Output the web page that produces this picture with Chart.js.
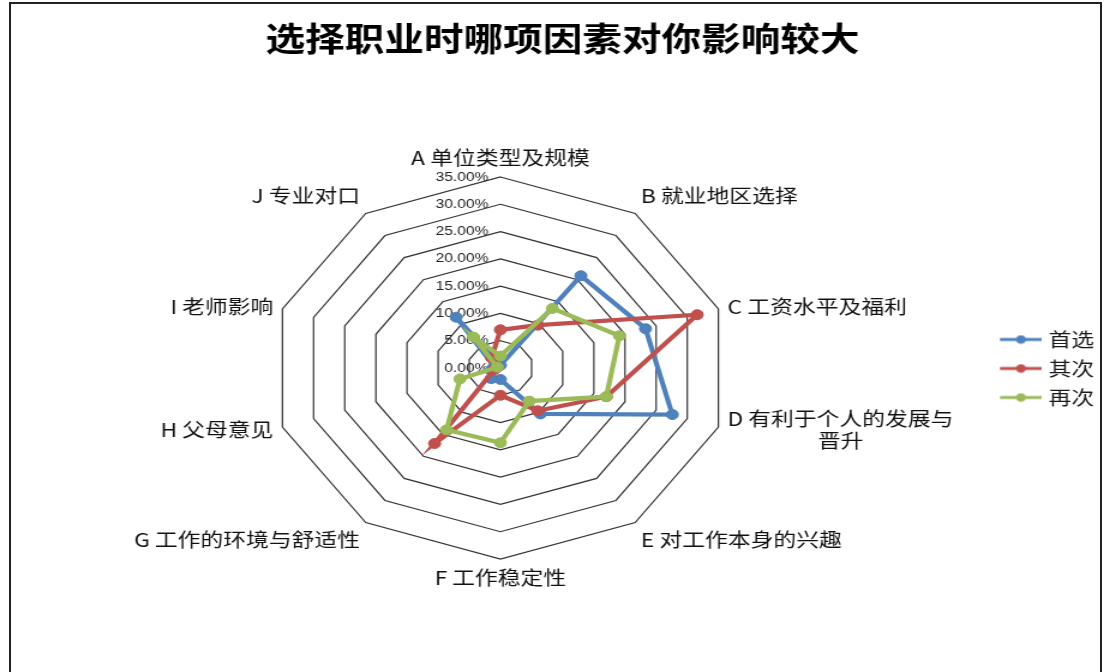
<!DOCTYPE html>
<html>
<head>
<meta charset="utf-8">
<script src="https://cdn.jsdelivr.net/npm/chart.js@4.4.1/dist/chart.umd.min.js"></script>
<style>
  html, body { margin: 0; padding: 0; background: #fff; width: 1110px; height: 672px; overflow: hidden; }
  #frame { position: absolute; left: 9px; top: 2px; width: 1093px; height: 720px; border: 2px solid #222; box-sizing: border-box; }
  #stage { position: absolute; left: 0; top: 0; width: 925px; height: 672px; transform: scaleX(1.2); transform-origin: 0 0; }
</style>
</head>
<body>
<div id="frame"></div>
<div id="stage"><canvas id="c" width="925" height="672"></canvas></div>
<script>
// ---- data ----
const titleText = '选择职业时哪项因素对你影响较大';
const categories = [
  'A 单位类型及规模',
  'B 就业地区选择',
  'C 工资水平及福利',
  ['D 有利于个人的发展与', '晋升'],
  'E 对工作本身的兴趣',
  'F 工作稳定性',
  'G 工作的环境与舒适性',
  'H 父母意见',
  'I 老师影响',
  'J 专业对口'
];
const seriesNames = ['首选', '其次', '再次'];
const firstChoice  = [0.5, 20.9, 23.3, 27.6, 10.4, 2.1, 2.4, 1.5, 1.0, 11.5];
const secondChoice = [7.0, 9.7, 31.6, 17.0, 9.7, 5.0, 17.1, 1.0, 0.5, 2.3];
const thirdChoice  = [2.2, 13.5, 19.1, 17.0, 7.5, 13.7, 14.0, 6.5, 0.5, 7.0];
const tickLabels = ['0.00%', '5.00%', '10.00%', '15.00%', '20.00%', '25.00%', '30.00%', '35.00%'];

// ---- styles ----
const colors = ['#4F81BD', '#C0504D', '#9BBB59'];
const CJK = '"Noto Sans CJK SC", "Noto Sans", sans-serif';

function makeMarker(color) {
  const c = document.createElement('canvas');
  c.width = 43; c.height = 10;
  const g = c.getContext('2d');
  g.strokeStyle = color; g.lineWidth = 3.2;
  g.beginPath(); g.moveTo(8, 5); g.lineTo(43, 5); g.stroke();
  g.fillStyle = color;
  g.beginPath(); g.arc(25.5, 5, 4.2, 0, Math.PI * 2); g.fill();
  return c;
}
const markers = colors.map(makeMarker);

const tickTextPlugin = {
  id: 'tickText',
  beforeDatasetsDraw(chart) {
    const s = chart.scales.r, ctx = chart.ctx;
    ctx.save();
    ctx.font = '13px "Liberation Sans", Arial, sans-serif';
    ctx.fillStyle = '#222';
    ctx.textAlign = 'right';
    ctx.textBaseline = 'middle';
    s.ticks.forEach((t, i) => {
      const d = s.getDistanceFromCenterForValue(t.value);
      ctx.fillText(tickLabels[i], s.xCenter - 10, s.yCenter - d);
    });
    ctx.restore();
  }
};

const categoryTextPlugin = {
  id: 'categoryText',
  afterDatasetsDraw(chart) {
    const s = chart.scales.r, ctx = chart.ctx;
    const gap = 8, lineH = 22;
    ctx.save();
    ctx.font = '19px ' + CJK;
    ctx.fillStyle = '#111';
    ctx.textAlign = 'center';
    ctx.textBaseline = 'middle';
    const n = categories.length;
    categories.forEach((cat, i) => {
      const lines = Array.isArray(cat) ? cat : [cat];
      const p = s.getPointPosition(i, s.drawingArea + gap);
      const w = Math.max(...lines.map(l => ctx.measureText(l).width));
      const h = lines.length * lineH;
      let cx;
      if (i === 0 || i === n / 2) cx = p.x;
      else if (i < n / 2) cx = p.x + w / 2;
      else cx = p.x - w / 2;
      let top;
      if (i === 0 || i === 1 || i === n - 1) top = p.y - h;
      else if (i === 4 || i === 5 || i === 6) top = p.y;
      else top = p.y - h / 2;
      lines.forEach((l, k) => ctx.fillText(l, cx, top + lineH * (k + 0.5)));
    });
    ctx.restore();
  }
};

const seriesData = [firstChoice, secondChoice, thirdChoice];

new Chart(document.getElementById('c'), {
  type: 'radar',
  data: {
    labels: categories,
    datasets: seriesData.map((vals, i) => ({
      label: seriesNames[i],
      data: vals,
      borderColor: colors[i],
      backgroundColor: colors[i],
      pointBackgroundColor: colors[i],
      pointBorderColor: colors[i],
      pointBorderWidth: 1,
      pointRadius: 5,
      borderWidth: 4.2,
      fill: false,
      order: 2 - i
    }))
  },
  options: {
    responsive: false,
    animation: false,
    events: [],
    devicePixelRatio: 1,
    layout: { padding: { left: 15.7, right: 3.2, top: 0, bottom: 112.5 } },
    scales: {
      r: {
        min: 0,
        max: 35,
        ticks: { stepSize: 5, display: false },
        grid: { color: '#333', lineWidth: 1.2, circular: false },
        angleLines: { display: false },
        pointLabels: { display: false }
      }
    },
    plugins: {
      title: {
        display: true,
        text: titleText,
        color: '#000',
        font: { family: CJK, size: 33, weight: 'bold' },
        padding: { top: 19, bottom: 118.9 }
      },
      legend: {
        position: 'right',
        fullSize: false,
        labels: {
          color: '#1a1a1a',
          font: { family: CJK, size: 19 },
          usePointStyle: true,
          pointStyleWidth: 35,
          padding: 10,
          sort: (a, b) => a.datasetIndex - b.datasetIndex,
          generateLabels(chart) {
            const items = Chart.defaults.plugins.legend.labels.generateLabels(chart);
            items.forEach(it => { it.pointStyle = markers[it.datasetIndex]; });
            return items;
          }
        }
      },
      tooltip: { enabled: false }
    }
  },
  plugins: [tickTextPlugin, categoryTextPlugin]
});
</script>
</body>
</html>
